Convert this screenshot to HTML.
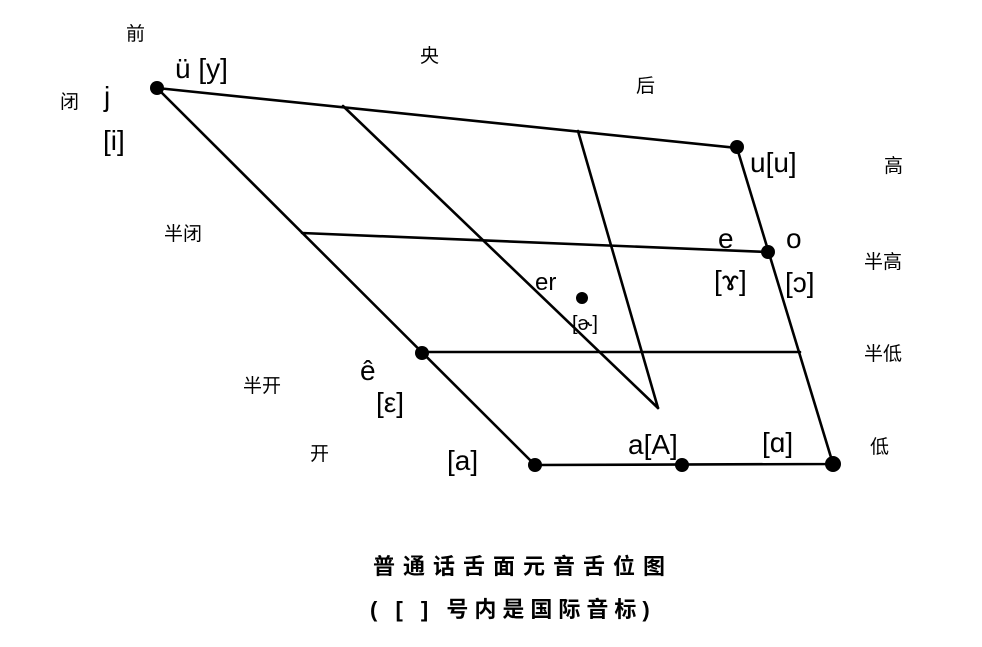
<!DOCTYPE html>
<html><head><meta charset="utf-8"><style>
html,body{margin:0;padding:0;background:#fff;}
svg{display:block}
text{font-family:"Liberation Sans","Noto Sans CJK SC",sans-serif;fill:#000}
.c{font-size:19px}
.p{font-family:"Liberation Sans",sans-serif;font-size:28px}
.t{font-size:22px;font-weight:bold;letter-spacing:8px}
</style></head><body>
<svg width="982" height="647" viewBox="0 0 982 647" xmlns="http://www.w3.org/2000/svg">
<g stroke="#000" stroke-width="2.6" fill="none" stroke-linecap="round">
<polyline points="157,88 737,148 833,464 535,465 157,88"/>
<line x1="343" y1="106" x2="658" y2="408"/>
<line x1="578" y1="131" x2="658" y2="408"/>
<line x1="302" y1="233" x2="768" y2="252"/>
<line x1="422" y1="352" x2="800" y2="352"/>
</g>
<g fill="#000">
<circle cx="157" cy="88" r="7"/>
<circle cx="737" cy="147" r="7"/>
<circle cx="768" cy="252" r="7"/>
<circle cx="582" cy="298" r="6"/>
<circle cx="422" cy="353" r="7"/>
<circle cx="535" cy="465" r="7"/>
<circle cx="682" cy="465" r="7"/>
<circle cx="833" cy="464" r="8"/>
</g>
<text class="c" x="126" y="40">前</text>
<text class="c" x="60" y="108">闭</text>
<text class="c" x="420" y="62">央</text>
<text class="c" x="636" y="92">后</text>
<text class="c" x="884" y="172">高</text>
<text class="c" x="164" y="240">半闭</text>
<text class="c" x="864" y="268">半高</text>
<text class="c" x="864" y="360">半低</text>
<text class="c" x="243" y="392">半开</text>
<text class="c" x="310" y="460">开</text>
<text class="c" x="870" y="453">低</text>
<text class="p" x="104" y="106">j</text>
<text class="p" x="103" y="150">[i]</text>
<text class="p" x="175" y="78">ü [y]</text>
<text class="p" x="750" y="172">u[u]</text>
<text class="p" x="718" y="248">e</text>
<text class="p" x="714" y="290">[ɤ]</text>
<text class="p" x="786" y="248">o</text>
<text class="p" x="785" y="292">[ɔ]</text>
<text class="p" x="535" y="290" style="font-size:24px">er</text>
<text class="p" x="572" y="330" style="font-size:20px">[ɚ]</text>
<text class="p" x="360" y="380">ê</text>
<text class="p" x="376" y="412">[ε]</text>
<text class="p" x="447" y="470">[a]</text>
<text class="p" x="628" y="454">a[A]</text>
<text class="p" x="762" y="452">[ɑ]</text>
<text class="t" x="373" y="574">普通话舌面元音舌位图</text>
<text class="t" x="370" y="617" style="letter-spacing:6px">( [ ] 号内是国际音标)</text>
</svg>
</body></html>
